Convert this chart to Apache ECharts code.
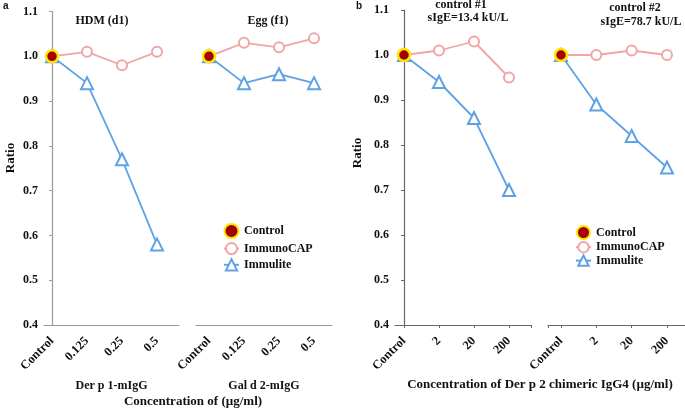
<!DOCTYPE html>
<html><head><meta charset="utf-8">
<script src="https://cdn.jsdelivr.net/npm/echarts@6/dist/echarts.min.js"></script>
<style>html,body{margin:0;padding:0;background:#fff}#c{width:685px;height:409px}</style>
</head><body><div id="c"></div>
<script>
// ---- data ----
const catsA = ['Control', '0.125', '0.25', '0.5'];
const catsB = ['Control', '2', '20', '200'];
const yTicks = [0.4, 0.5, 0.6, 0.7, 0.8, 0.9, 1.0, 1.1];
const controlValue = 1.0;
const hdmImmunoCAP = [1.00, 1.01, 0.98, 1.01];
const hdmImmulite  = [1.00, 0.94, 0.77, 0.58];
const eggImmunoCAP = [1.00, 1.03, 1.02, 1.04];
const eggImmulite  = [1.00, 0.94, 0.96, 0.94];
const c1ImmunoCAP  = [1.00, 1.01, 1.03, 0.95];
const c1Immulite   = [1.00, 0.94, 0.86, 0.70];
const c2ImmunoCAP  = [1.00, 1.00, 1.01, 1.00];
const c2Immulite   = [1.00, 0.89, 0.82, 0.75];

const SERIF = '"Liberation Serif","Times New Roman",serif';
const PINK = '#f2a5a5', BLUE = '#5ea2e6', RED = '#a30000', YEL = '#ffe500';
const toPts = arr => arr.map((v, i) => [i, v]);

const grids = [
  {left: 44, top: 11.5, width: 135, height: 313.5},
  {left: 196, top: 11.5, width: 136, height: 313.5},
  {left: 395, top: 10, width: 136, height: 315},
  {left: 548, top: 10, width: 137, height: 315}
];
const xRanges = [[-0.229, 3.629], [-0.371, 3.514], [-0.257, 3.629], [-0.368, 3.51]];
const axColA = '#9a9a9a', axColB = '#666';

function xAxis(i, cats, col, ticks, name) {
  const tickVals = ticks ? (i === 2 ? [0,1,2,3,xRanges[i][1]] : i === 3 ? [xRanges[i][0],0,1,2,3] : [0,1,2,3]) : [0,1,2,3];
  return {
    type: 'value', gridIndex: i, min: xRanges[i][0], max: xRanges[i][1],
    splitLine: {show: false},
    axisLine: {show: true, lineStyle: {color: col, width: 1.2}},
    axisTick: {show: ticks, length: 3, customValues: tickVals, lineStyle: {color: col}},
    axisLabel: {customValues: [0,1,2,3], formatter: v => cats[Math.round(v)], rotate: 45, margin: 14,
      color: '#111', fontFamily: SERIF, fontWeight: 'bold', fontSize: 12.5},
    name: name || '', nameLocation: 'middle', nameGap: 53,
    nameTextStyle: {color: '#111', fontFamily: SERIF, fontWeight: 'bold', fontSize: 12}
  };
}
function yAxis(i, show, col) {
  return {
    type: 'value', gridIndex: i, min: 0.4, max: 1.1, interval: 0.1, show: show,
    splitLine: {show: false},
    axisLine: {show: true, lineStyle: {color: col, width: 1.2}},
    axisTick: {show: true, length: 3, lineStyle: {color: col}},
    axisLabel: {formatter: v => v.toFixed(1), margin: 6, color: '#111',
      fontFamily: SERIF, fontWeight: 'bold', fontSize: 12}
  };
}

const sets = [[hdmImmunoCAP, hdmImmulite], [eggImmunoCAP, eggImmulite], [c1ImmunoCAP, c1Immulite], [c2ImmunoCAP, c2Immulite]];
const series = [];
sets.forEach((s, i) => {
  series.push({name: 'ImmunoCAP', type: 'line', xAxisIndex: i, yAxisIndex: i, data: toPts(s[0]),
    symbol: 'emptyCircle', symbolSize: 10, z: 2,
    lineStyle: {color: PINK, width: 1.8}, itemStyle: {color: PINK, borderWidth: 1.6}});
  series.push({name: 'Immulite', type: 'line', xAxisIndex: i, yAxisIndex: i, data: toPts(s[1]),
    symbol: 'emptyTriangle', symbolSize: 12, z: 3,
    lineStyle: {color: BLUE, width: 1.8}, itemStyle: {color: BLUE, borderWidth: 1.6}});
  series.push({name: 'Control', type: 'scatter', xAxisIndex: i, yAxisIndex: i, data: [[0, controlValue]],
    symbol: 'circle', symbolSize: 12, z: 5,
    itemStyle: {color: RED, borderColor: YEL, borderWidth: 2.5, opacity: 1}});
});

const txt = (text, x, y, size, extra) => Object.assign({type: 'text', x: x, y: y,
  style: {text: text, fill: '#111', fontFamily: SERIF, fontWeight: 'bold', fontSize: size,
    textAlign: 'center', textVerticalAlign: 'middle'}}, extra || {});

const option = {
  animation: false,
  grid: grids,
  xAxis: [xAxis(0, catsA, axColA, false, 'Der p 1-mIgG'), xAxis(1, catsA, axColA, false, 'Gal d 2-mIgG'),
          xAxis(2, catsB, axColB, true), xAxis(3, catsB, axColB, true)],
  yAxis: [yAxis(0, true, axColA), yAxis(1, false, axColA), yAxis(2, true, axColB), yAxis(3, false, axColB)],
  legend: [
    {data: ['Control', 'ImmunoCAP', 'Immulite'], orient: 'vertical', left: 218, top: 218,
     itemWidth: 15, itemHeight: 14, itemGap: 3, selectedMode: false,
     textStyle: {fontFamily: SERIF, fontWeight: 'bold', fontSize: 12, color: '#111'}},
    {data: ['Control', 'ImmunoCAP', 'Immulite'], orient: 'vertical', left: 570, top: 220,
     itemWidth: 15, itemHeight: 13, itemGap: 1, selectedMode: false,
     textStyle: {fontFamily: SERIF, fontWeight: 'bold', fontSize: 12, color: '#111'}}
  ],
  graphic: [
    {type: 'text', x: 3, y: 1, style: {text: 'a', fill: '#111', fontFamily: '"Liberation Sans",Arial,sans-serif', fontWeight: 'bold', fontSize: 10}},
    {type: 'text', x: 356, y: 1, style: {text: 'b', fill: '#111', fontFamily: '"Liberation Sans",Arial,sans-serif', fontWeight: 'bold', fontSize: 10}},
    txt('HDM (d1)', 102, 21, 12),
    txt('Egg (f1)', 268, 21, 12),
    txt('control #1', 461, 5, 12),
    txt('sIgE=13.4 kU/L', 468, 18, 12),
    txt('control #2', 635, 8, 12),
    txt('sIgE=78.7 kU/L', 641, 22, 12),
    txt('Ratio', 11, 158, 13, {rotation: Math.PI / 2}),
    txt('Ratio', 358, 153, 13, {rotation: Math.PI / 2}),
    txt('Concentration of (\u00b5g/ml)', 193, 402, 13),
    txt('Concentration of Der p 2 chimeric IgG4 (\u00b5g/ml)', 540, 385, 13)
  ],
  series: series
};
echarts.init(document.getElementById('c'), null, {renderer: 'canvas'}).setOption(option);
</script></body></html>
